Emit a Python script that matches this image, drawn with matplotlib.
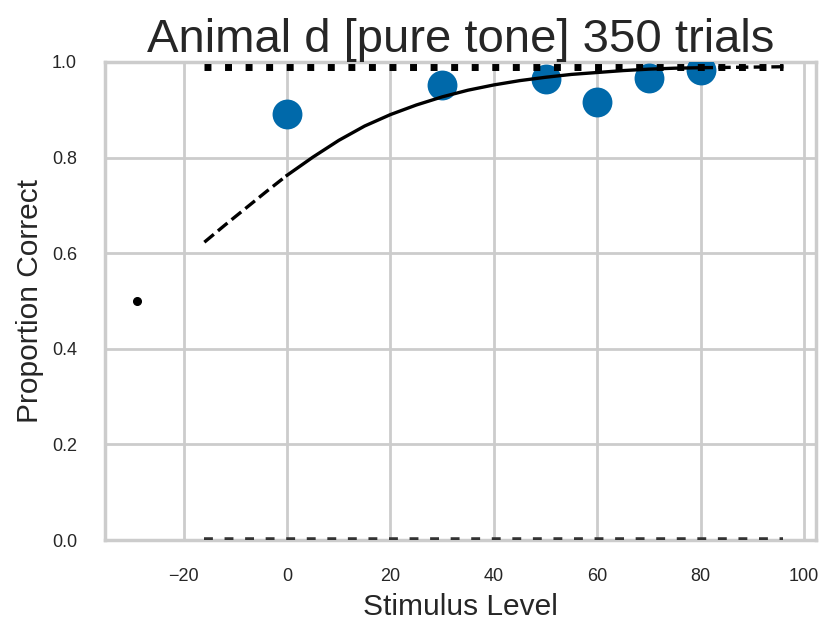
import numpy as np
import matplotlib
matplotlib.use("Agg")
import matplotlib.pyplot as plt

plt.rcParams["font.family"] = ["Liberation Sans", "DejaVu Sans"]

# data points (proportion correct per stimulus level)
levels = [0, 30, 50, 60, 70, 80]
prop_correct = [0.892, 0.951, 0.965, 0.916, 0.967, 0.983]

# fitted psychometric curve
fit_x = [-16, -12, -8, -4, 0, 5, 10, 15, 20, 25, 30, 35, 40, 45, 50, 55, 60, 65, 70, 75, 80, 88, 96]
fit_y = [0.623, 0.659, 0.694, 0.729, 0.763, 0.801, 0.836, 0.866, 0.890, 0.910, 0.927, 0.941,
         0.952, 0.961, 0.968, 0.974, 0.978, 0.982, 0.985, 0.987, 0.988, 0.989, 0.990]

lapse_y = 0.99   # 1 - lambda
guess_y = 0.0
x_ext = [-16, 96]
chance_pt = (-29, 0.5)

title = "Animal d [pure tone] 350 trials"

fig = plt.figure(figsize=(8.19, 6.21), dpi=100)
ax = fig.add_axes([0.128, 0.1304, 0.868, 0.7698])

grid_c = "#cccccc"
ax.set_axisbelow(True)
ax.grid(True, color=grid_c, lw=2.0)
for s in ax.spines.values():
    s.set_color(grid_c)
    s.set_linewidth(2.5)

# data
ax.plot(levels, prop_correct, "o", color=(0, 105/255, 170/255), ms=21.5, mew=0, zorder=3)

# fit: dashed extrapolation, solid inside data range
fx = np.array(fit_x)
fy = np.array(fit_y)
inside = (fx >= 0) & (fx <= 80)
ax.plot(fx[inside], fy[inside], "k-", lw=2.4, zorder=4)
ax.plot(fx[fx <= 0], fy[fx <= 0], "k--", lw=2.4, zorder=4)
ax.plot(fx[fx >= 80], fy[fx >= 80], "k--", lw=2.4, zorder=4)

# asymptotes
ax.plot(x_ext, [lapse_y, lapse_y], color="k", lw=5, dashes=(1, 1.96), solid_capstyle="butt", zorder=4)
ax.plot(x_ext, [guess_y, guess_y], color="#333333", lw=4, dashes=(1.6, 2.1), zorder=4)
ax.plot([chance_pt[0]], [chance_pt[1]], "ko", ms=5.5, zorder=4)

ax.set_ylim(0, 1)
ax.set_xticks([-20, 0, 20, 40, 60, 80, 100])
ax.set_yticks([0, 0.2, 0.4, 0.6, 0.8, 1.0])
ax.tick_params(length=0, pad=20, labelsize=13, colors="#262626")

ax.set_title(title, fontsize=34, color="#262626", pad=4)
ax.set_xlabel("Stimulus Level", fontsize=21.5, color="#262626", labelpad=6)
ax.set_ylabel("Proportion Correct", fontsize=21.5, color="#262626", labelpad=6)

fig.savefig("out.png", dpi=100)
